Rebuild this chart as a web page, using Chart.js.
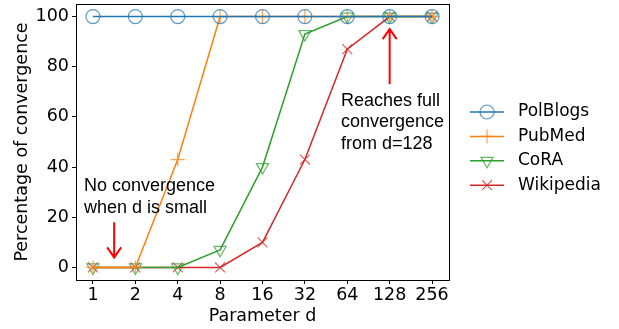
<!DOCTYPE html>
<html>
<head>
<meta charset="utf-8">
<script src="https://cdn.jsdelivr.net/npm/chart.js@4"></script>
<style>
  body { margin: 0; background: #fff; }
  #wrap { width: 619px; height: 329px; }
</style>
</head>
<body>
<div id="wrap"><canvas id="myChart" width="619" height="329"></canvas></div>
<script>
// values
const dLabels = ['1', '2', '4', '8', '16', '32', '64', '128', '256'];
const polblogs = [100, 100, 100, 100, 100, 100, 100, 100, 100];
const pubmed = [0, 0, 43, 100, 100, 100, 100, 100, 100];
const cora = [0, 0, 0, 7, 40, 93, 100, 100, 100];
const wikipedia = [0, 0, 0, 0, 10, 43, 87, 100, 100];

const FONT = 'DejaVu Sans';
const NOTE_FONT = 'Liberation Sans';

function pts(arr) {
    return arr.map((v, i) => ({ x: i, y: v }));
}

function mkSet(label, data, color, style, rot) {
    return {
        label: label,
        data: pts(data),
        borderColor: color,
        backgroundColor: 'rgba(0,0,0,0)',
        borderWidth: 1.5,
        pointStyle: style,
        pointRotation: rot || 0,
        pointRadius: 7,
        pointBorderColor: color + 'bb',
        pointBackgroundColor: 'rgba(0,0,0,0)',
        pointBorderWidth: 1.2,
        tension: 0
    };
}

// arrows, notes, frame and legend
const extras = {
    id: 'extras',
    afterDraw(chart) {
        const c = chart.ctx;
        const a = chart.chartArea;
        const xs = chart.scales.x, ys = chart.scales.y;
        c.save();
        c.strokeStyle = '#000';
        c.lineWidth = 1;
        c.strokeRect(a.left + 0.5, a.top + 0.5, a.right - a.left, a.bottom - a.top);

        function arrow(x, y1, y2) {
            c.strokeStyle = '#ff0000';
            c.lineWidth = 2;
            c.beginPath();
            c.moveTo(x, y1);
            c.lineTo(x, y2);
            const dir = y2 > y1 ? -1 : 1;
            c.moveTo(x - 7, y2 + dir * 10);
            c.lineTo(x, y2);
            c.lineTo(x + 7, y2 + dir * 10);
            c.stroke();
        }
        arrow(xs.getPixelForValue(0.5), ys.getPixelForValue(18), ys.getPixelForValue(4));
        arrow(xs.getPixelForValue(7), ys.getPixelForValue(73), ys.getPixelForValue(95));

        c.fillStyle = '#000';
        c.font = '18px ' + NOTE_FONT;
        c.textBaseline = 'middle';
        c.textAlign = 'left';
        c.fillText('No convergence', 84, 186);
        c.fillText('when d is small', 84, 208);
        c.fillText('Reaches full', 341, 101);
        c.fillText('convergence', 341, 122);
        c.fillText('from d=128', 341, 144);

        // legend
        const items = [
            ['PolBlogs', '#1f77b4', 'circle', 0],
            ['PubMed', '#ff7f0e', 'cross', 0],
            ['CoRA', '#2ca02c', 'triangle', 180],
            ['Wikipedia', '#d62728', 'crossRot', 0]
        ];
        c.font = '17px ' + FONT;
        items.forEach((it, i) => {
            const y = 112 + i * 24.4;
            c.strokeStyle = it[1];
            c.lineWidth = 1.5;
            c.beginPath();
            c.moveTo(470, y);
            c.lineTo(504, y);
            c.stroke();
            c.strokeStyle = it[1] + 'bb';
            c.fillStyle = 'rgba(0,0,0,0)';
            c.lineWidth = 1.2;
            Chart.helpers.drawPoint(c, { pointStyle: it[2], rotation: it[3], radius: 7, borderWidth: 1.2 }, 487, y);
            c.fillStyle = '#000';
            c.fillText(it[0], 518, y);
        });
        c.restore();
    }
};

const ctx = document.getElementById('myChart').getContext('2d');
new Chart(ctx, {
    type: 'line',
    data: {
        datasets: [
            mkSet('PolBlogs', polblogs, '#1f77b4', 'circle'),
            mkSet('PubMed', pubmed, '#ff7f0e', 'cross'),
            mkSet('CoRA', cora, '#2ca02c', 'triangle', 180),
            mkSet('Wikipedia', wikipedia, '#d62728', 'crossRot')
        ]
    },
    options: {
        responsive: false,
        animation: false,
        layout: { autoPadding: false, padding: { left: 0, right: 170, top: 4, bottom: 0 } },
        plugins: { legend: { display: false }, tooltip: { enabled: false } },
        scales: {
            x: {
                type: 'linear',
                min: -0.4,
                max: 8.4,
                afterBuildTicks(scale) {
                    scale.ticks = dLabels.map((l, i) => ({ value: i }));
                },
                afterFit(scale) {
                    scale.height = 49;
                    scale.paddingLeft = 0;
                    scale.paddingRight = 0;
                },
                ticks: {
                    color: '#000',
                    font: { family: FONT, size: 17.5 },
                    padding: 1,
                    maxRotation: 0,
                    callback: (v) => dLabels[v]
                },
                grid: { drawOnChartArea: false, drawTicks: true, tickLength: 4, color: '#000' },
                border: { color: '#000' },
                title: { display: true, text: 'Parameter d', color: '#000', font: { family: FONT, size: 17.5 }, padding: { top: 0, bottom: 2 } }
            },
            y: {
                min: -5,
                max: 105,
                afterBuildTicks(scale) {
                    scale.ticks = [0, 20, 40, 60, 80, 100].map(v => ({ value: v }));
                },
                afterFit(scale) {
                    scale.width = 76;
                    scale.paddingTop = 0;
                    scale.paddingBottom = 0;
                },
                ticks: { color: '#000', font: { family: FONT, size: 17.5 }, padding: 3 },
                grid: { drawOnChartArea: false, drawTicks: true, tickLength: 4, color: '#000' },
                border: { color: '#000' },
                title: { display: true, text: 'Percentage of convergence', color: '#000', font: { family: FONT, size: 17.5 }, padding: { top: 12, bottom: 0 } }
            }
        }
    },
    plugins: [extras]
});
</script>
</body>
</html>
